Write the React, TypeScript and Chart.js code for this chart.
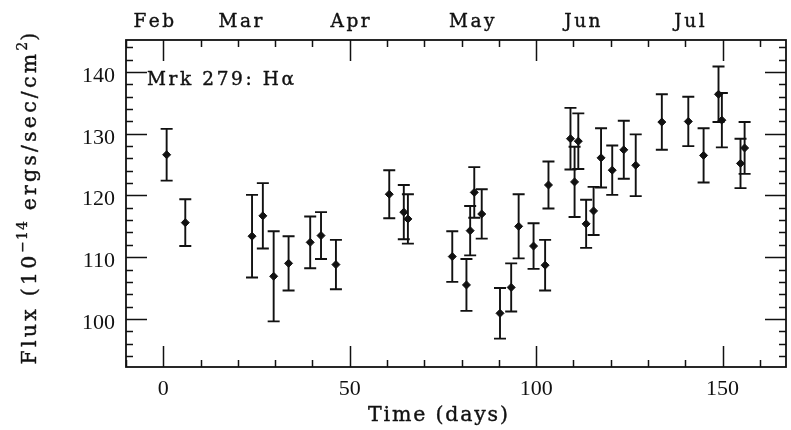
import { useEffect, useRef } from "react";
import { Chart, registerables } from "chart.js";

Chart.register(...registerables);

// ---- data ----
const days = [
  0.9, 5.9, 23.8, 26.7, 29.6, 33.6, 39.4, 42.3, 46.3,
  60.6, 64.5, 65.6, 77.5, 81.3, 82.3, 83.4, 85.4, 90.3, 93.3, 95.3, 99.3, 102.4, 103.3,
  109.2, 110.3, 111.3, 113.4, 115.4, 117.4, 120.4, 123.5, 126.7, 133.7, 140.8, 144.9,
  148.9, 149.8, 154.8, 155.9,
];
const flux = [
  126.6, 115.6, 113.4, 116.7, 106.9, 109.0, 112.4, 113.5, 108.8,
  120.2, 117.3, 116.2, 110.1, 105.5, 114.3, 120.5, 117.0, 100.9, 105.1, 115.0, 111.8, 108.7, 121.7,
  129.2, 122.2, 128.8, 115.4, 117.5, 126.1, 124.1, 127.4, 124.9, 131.9, 132.0, 126.5,
  136.4, 132.2, 125.2, 127.7,
];
const fluxErr = [
  4.2, 3.8, 6.7, 5.3, 7.3, 4.4, 4.2, 3.8, 4.0,
  3.9, 4.4, 4.0, 4.1, 4.2, 4.0, 4.1, 4.0, 4.1, 3.9, 5.2, 3.7, 4.1, 3.8,
  5.0, 5.7, 4.5, 3.9, 3.9, 4.8, 4.0, 4.7, 5.0, 4.5, 4.0, 4.4,
  4.5, 4.4, 4.0, 4.2,
];
const xTickValues = [0, 50, 100, 150];
const yTickValues = [100, 110, 120, 130, 140];
const monthLabels = ["Feb", "Mar", "Apr", "May", "Jun", "Jul"];
const monthDays = [-2.7, 20.7, 50.1, 82.7, 112.4, 141.1];
const xRange = [-10, 167];
const yRange = [92.2, 145.2];
const xMinorStep = 10;
const xMajorStep = 50;
const yMinorStep = 2;
const yMajorStep = 10;
const annotation = "Mrk 279: H\u03b1";
const xTitle = "Time (days)";
const yTitleParts: [string, boolean][] = [
  ["Flux (10", false],
  ["\u221214", true],
  [" ergs/sec/cm", false],
  ["2", true],
  [")", false],
];

const TYPE = "'DejaVu Serif', serif";
const SERIF = "'Liberation Serif', 'Times New Roman', serif";
const INK = "#111";

// width of text drawn with extra spacing between characters
function spacedWidth(ctx: any, t: string, ls: number) {
  return ctx.measureText(t).width + ls * (t.length - 1);
}

// draws text left-aligned at x with letter spacing ls
function drawSpaced(ctx: any, t: string, x: number, y: number, ls: number, stroke = 0.4) {
  let cx = x;
  ctx.textAlign = "left";
  ctx.lineWidth = stroke;
  for (const ch of t) {
    if (stroke > 0) ctx.strokeText(ch, cx, y);
    ctx.fillText(ch, cx, y);
    cx += ctx.measureText(ch).width + ls;
  }
}

const decorPlugin = {
  id: "decor",
  beforeDatasetsDraw(chart: any) {
    const { ctx, scales } = chart;
    const x = scales.x;
    const y = scales.y;
    ctx.save();
    ctx.strokeStyle = INK;
    ctx.lineWidth = 1.9;
    const cap = 6;
    for (let i = 0; i < days.length; i++) {
      const px = x.getPixelForValue(days[i]);
      const top = y.getPixelForValue(flux[i] + fluxErr[i]);
      const bot = y.getPixelForValue(flux[i] - fluxErr[i]);
      ctx.beginPath();
      ctx.moveTo(px, top);
      ctx.lineTo(px, bot);
      ctx.moveTo(px - cap, top);
      ctx.lineTo(px + cap, top);
      ctx.moveTo(px - cap, bot);
      ctx.lineTo(px + cap, bot);
      ctx.stroke();
    }
    ctx.restore();
  },
  afterDraw(chart: any) {
    const { ctx, chartArea: a, scales } = chart;
    const x = scales.x;
    const y = scales.y;
    ctx.save();
    ctx.strokeStyle = INK;
    // frame
    ctx.lineWidth = 1.8;
    ctx.strokeRect(a.left, a.top, a.right - a.left, a.bottom - a.top);
    // ticks
    ctx.lineWidth = 1.5;
    const major = 21;
    const minor = 7;
    ctx.beginPath();
    const xs = Math.ceil(xRange[0] / xMinorStep) * xMinorStep;
    for (let v = xs; v <= xRange[1]; v += xMinorStep) {
      const px = Math.round(x.getPixelForValue(v)) + 0.5;
      const len = v % xMajorStep === 0 ? major : minor;
      ctx.moveTo(px, a.bottom);
      ctx.lineTo(px, a.bottom - len);
      ctx.moveTo(px, a.top);
      ctx.lineTo(px, a.top + len);
    }
    const ys = Math.ceil(yRange[0] / yMinorStep) * yMinorStep;
    for (let v = ys; v <= yRange[1]; v += yMinorStep) {
      const py = Math.round(y.getPixelForValue(v)) + 0.5;
      const len = v % yMajorStep === 0 ? major : minor;
      ctx.moveTo(a.left, py);
      ctx.lineTo(a.left + len, py);
      ctx.moveTo(a.right, py);
      ctx.lineTo(a.right - len, py);
    }
    ctx.stroke();

    ctx.fillStyle = INK;
    ctx.strokeStyle = INK;
    ctx.lineJoin = "round";
    ctx.textBaseline = "alphabetic";

    // month labels on top axis
    ctx.font = `18.5px ${TYPE}`;
    monthLabels.forEach((m, i) => {
      const w = spacedWidth(ctx, m, 2.5);
      drawSpaced(ctx, m, x.getPixelForValue(monthDays[i]) - w / 2, 27, 2.5);
    });

    // annotation
    ctx.font = `18.5px ${TYPE}`;
    drawSpaced(ctx, annotation, 147, 85, 2.6);

    // x title
    ctx.font = `20.5px ${TYPE}`;
    {
      const w = spacedWidth(ctx, xTitle, 1.8);
      drawSpaced(ctx, xTitle, 438 - w / 2, 421, 1.8);
    }

    // y title with superscripts
    const big = `20.5px ${TYPE}`;
    const small = `14px ${TYPE}`;
    const ls = 3.2;
    let total = 0;
    const widths = yTitleParts.map(([t, sup]) => {
      ctx.font = sup ? small : big;
      const w = spacedWidth(ctx, t, sup ? 1 : ls) + (sup ? 1 : ls);
      total += w;
      return w;
    });
    ctx.translate(36, 197);
    ctx.rotate(-Math.PI / 2);
    let cx = -total / 2;
    yTitleParts.forEach(([t, sup], i) => {
      ctx.font = sup ? small : big;
      drawSpaced(ctx, t, cx, sup ? -9 : 0, sup ? 1 : ls, sup ? 0.3 : 0.4);
      cx += widths[i];
    });
    ctx.restore();
  },
};

export default function App() {
  const ref = useRef<HTMLCanvasElement | null>(null);
  useEffect(() => {
    if (!ref.current) return;
    const chart = new Chart(ref.current, {
      type: "scatter",
      data: {
        datasets: [
          {
            data: days.map((d, i) => ({ x: d, y: flux[i] })),
            pointStyle: "rectRot",
            pointRadius: 4,
            backgroundColor: INK,
            borderColor: INK,
            borderWidth: 1,
          },
        ],
      },
      options: {
        animation: false,
        responsive: false,
        devicePixelRatio: 1,
        layout: { padding: { top: 40, right: 5, left: 0, bottom: 0 } },
        plugins: { legend: { display: false }, tooltip: { enabled: false } },
        scales: {
          x: {
            type: "linear",
            min: xRange[0],
            max: xRange[1],
            afterBuildTicks: (s: any) => {
              s.ticks = xTickValues.map((v) => ({ value: v }));
            },
            afterFit: (s: any) => {
              s.height = 63;
            },
            grid: { display: false, drawTicks: false },
            border: { display: false },
            ticks: {
              autoSkip: false,
              maxRotation: 0,
              padding: 9,
              color: INK,
              font: { family: SERIF, size: 22 },
              callback: (v: any) => String(v),
            },
          },
          y: {
            type: "linear",
            min: yRange[0],
            max: yRange[1],
            afterBuildTicks: (s: any) => {
              s.ticks = yTickValues.map((v) => ({ value: v }));
            },
            afterFit: (s: any) => {
              s.width = 126;
            },
            grid: { display: false, drawTicks: false },
            border: { display: false },
            ticks: {
              autoSkip: false,
              padding: 11,
              labelOffset: 4,
              color: INK,
              font: { family: SERIF, size: 22 },
              callback: (v: any) => String(v),
            },
          },
        },
      },
      plugins: [decorPlugin],
    });
    return () => chart.destroy();
  }, []);
  return (
    <div style={{ position: "fixed", left: 0, top: 0, width: 791, height: 430, background: "#fff" }}>
      <canvas ref={ref} width={791} height={430} style={{ width: 791, height: 430, display: "block" }} />
    </div>
  );
}
